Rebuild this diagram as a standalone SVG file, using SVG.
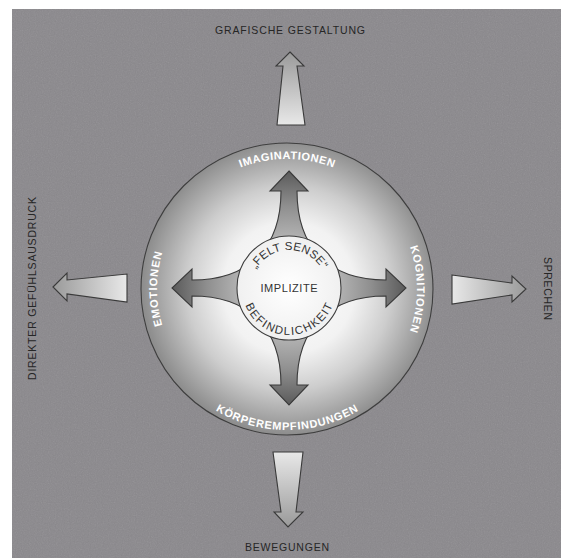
<svg xmlns="http://www.w3.org/2000/svg" width="561" height="560" viewBox="0 0 561 560">
<style>
.outer{font-family:"Liberation Sans",Arial,sans-serif;font-size:10.5px;fill:#262626}
.ring{font-family:"Liberation Sans",Arial,sans-serif;font-size:11px;font-weight:bold;fill:#ffffff}
.core{font-family:"Liberation Sans",Arial,sans-serif;font-size:11.5px;fill:#333333}
.arrow{stroke:#3a3a3a;stroke-width:1.1;stroke-linejoin:miter}
</style>
<defs>
<filter id="noise" x="0" y="0" width="100%" height="100%">
<feTurbulence type="fractalNoise" baseFrequency="0.85" numOctaves="2" seed="7"/>
<feColorMatrix type="saturate" values="0"/>
</filter>
<radialGradient id="disc" cx="289" cy="288" r="146" gradientUnits="userSpaceOnUse">
<stop offset="0" stop-color="#ffffff"/>
<stop offset="0.45" stop-color="#f2f2f2"/>
<stop offset="0.7" stop-color="#cdcdcd"/>
<stop offset="0.9" stop-color="#a3a3a3"/>
<stop offset="1" stop-color="#8e8e8e"/>
</radialGradient>
<radialGradient id="star" cx="0" cy="0" r="117" gradientUnits="userSpaceOnUse">
<stop offset="0.35" stop-color="#bdbdbd"/>
<stop offset="0.7" stop-color="#8f8f8f"/>
<stop offset="1" stop-color="#5a5a5a"/>
</radialGradient>
<radialGradient id="core" cx="0.5" cy="0.5" r="0.5">
<stop offset="0" stop-color="#ffffff"/>
<stop offset="1" stop-color="#f0f0f0"/>
</radialGradient>
<linearGradient id="gUp" x1="0" y1="1" x2="0" y2="0">
<stop offset="0" stop-color="#e8e8e8"/><stop offset="1" stop-color="#9a9a9a"/>
</linearGradient>
<linearGradient id="gDown" x1="0" y1="0" x2="0" y2="1">
<stop offset="0" stop-color="#e8e8e8"/><stop offset="1" stop-color="#9a9a9a"/>
</linearGradient>
<linearGradient id="gLeft" x1="1" y1="0" x2="0" y2="0">
<stop offset="0" stop-color="#e8e8e8"/><stop offset="1" stop-color="#9a9a9a"/>
</linearGradient>
<linearGradient id="gRight" x1="0" y1="0" x2="1" y2="0">
<stop offset="0" stop-color="#e8e8e8"/><stop offset="1" stop-color="#9a9a9a"/>
</linearGradient>
<path id="pTop" d="M157,289 A130,130 0 0 1 417,289"/>
<path id="pRight" d="M287,159 A130,130 0 0 1 287,419"/>
<path id="pLeft" d="M287,419 A130,130 0 0 1 287,159"/>
<path id="pBottom" d="M146,289 A141,141 0 0 0 428,289"/>
<path id="pFelt" d="M251,288 A38,38 0 0 1 327,288"/>
<path id="pBef" d="M242,288 A47,47 0 0 0 336,288"/>
</defs>

<g id="background">
<rect x="12" y="9" width="549" height="549" fill="#8a888c"/>
<rect x="12" y="9" width="549" height="549" filter="url(#noise)" opacity="0.16"/>
</g>

<g id="disc-node">
<circle cx="287" cy="289" r="146" fill="url(#disc)" stroke="#3e3e3e" stroke-width="1.1"/>
<text class="ring"><textPath href="#pTop" startOffset="50%" text-anchor="middle" textLength="95" lengthAdjust="spacing">IMAGINATIONEN</textPath></text>
<text class="ring"><textPath href="#pRight" startOffset="50%" text-anchor="middle" textLength="86" lengthAdjust="spacing">KOGNITIONEN</textPath></text>
<text class="ring"><textPath href="#pLeft" startOffset="50%" text-anchor="middle" textLength="74" lengthAdjust="spacing">EMOTIONEN</textPath></text>
<text class="ring"><textPath href="#pBottom" startOffset="50%" text-anchor="middle" textLength="150" lengthAdjust="spacing">KÖRPEREMPFINDUNGEN</textPath></text>
</g>

<g id="star-node" transform="translate(289,288)">
<path class="arrow" fill="url(#star)" d="M0,-117 L19,-97 L8,-97 C8,-40 40,-8 97,-8 L97,-19 L117,0 L97,19 L97,8 C40,8 8,40 8,97 L19,97 L0,117 L-19,97 L-8,97 C-8,40 -40,8 -97,8 L-97,19 L-117,0 L-97,-19 L-97,-8 C-40,-8 -8,-40 -8,-97 L-19,-97 Z"/>
</g>

<g id="core-node">
<circle cx="289" cy="288" r="52" fill="url(#core)" stroke="#3e3e3e" stroke-width="1.1"/>
<text class="core"><textPath href="#pFelt" startOffset="50%" text-anchor="middle" textLength="80" lengthAdjust="spacing">„FELT SENSE“</textPath></text>
<text class="core" x="289" y="292" text-anchor="middle" textLength="57" lengthAdjust="spacing" style="font-size:11px">IMPLIZITE</text>
<text class="core"><textPath href="#pBef" startOffset="50%" text-anchor="middle" textLength="112" lengthAdjust="spacing">BEFINDLICHKEIT</textPath></text>
</g>

<g id="connectors">
<path class="arrow" fill="url(#gUp)" d="M290,52 L304,66 L297,66 L305,125 L277,125 L283,66 L276,66 Z"/>
<path class="arrow" fill="url(#gDown)" d="M273,452 L303,452 L296,512 L303,512 L288,527 L274,512 L281,512 Z"/>
<path class="arrow" fill="url(#gLeft)" d="M53,287 L67,273 L67,280 L127,274 L127,302 L67,294 L67,301 Z"/>
<path class="arrow" fill="url(#gRight)" d="M452,275 L512,283 L512,276 L526,289 L512,302 L512,295 L452,304 Z"/>
</g>

<g id="label-top"><text class="outer" x="290" y="34" text-anchor="middle" textLength="150" lengthAdjust="spacing">GRAFISCHE GESTALTUNG</text></g>
<g id="label-bottom"><text class="outer" x="287" y="551" text-anchor="middle" textLength="84" lengthAdjust="spacing">BEWEGUNGEN</text></g>
<g id="label-left"><text class="outer" transform="translate(36,288.5) rotate(-90)" x="0" y="0" text-anchor="middle" textLength="183" lengthAdjust="spacing">DIREKTER GEFÜHLSAUSDRUCK</text></g>
<g id="label-right"><text class="outer" transform="translate(544,288.5) rotate(90)" x="0" y="0" text-anchor="middle" textLength="63" lengthAdjust="spacing">SPRECHEN</text></g>
</svg>
